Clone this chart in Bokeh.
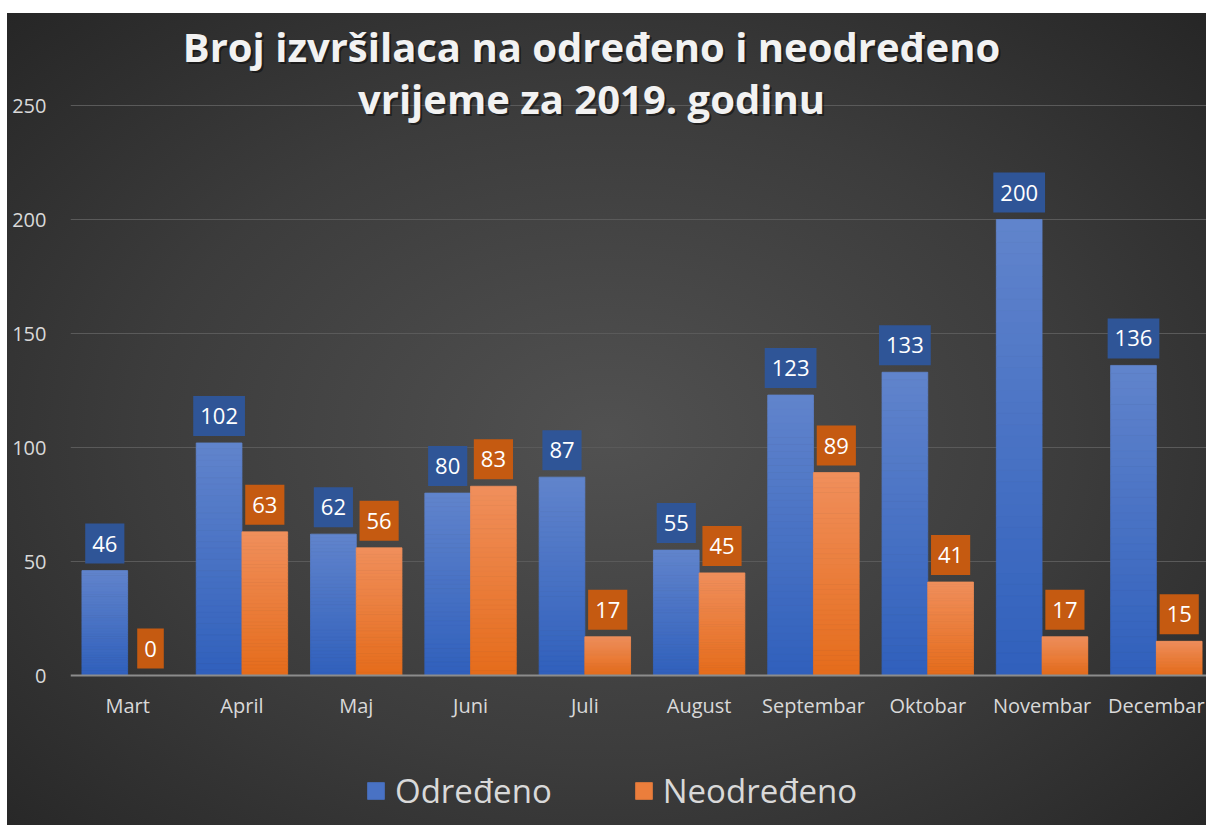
import numpy as np
from bokeh.plotting import figure
from bokeh.models import (ColumnDataSource, Range1d, FixedTicker, Label, Legend,
                          LegendItem, InlineStyleSheet, Span)
from bokeh.core.properties import value
from bokeh.embed import file_html
from bokeh.resources import INLINE

# ---------------- data ----------------
months = ["Mart", "April", "Maj", "Juni", "Juli", "August",
          "Septembar", "Oktobar", "Novembar", "Decembar"]
odredeno = [46, 102, 62, 80, 87, 55, 123, 133, 200, 136]
neodredeno = [0, 63, 56, 83, 17, 45, 89, 41, 17, 15]
series_names = ["Određeno", "Neodređeno"]
y_ticks = [0, 50, 100, 150, 200, 250]
title_lines = ["Broj izvršilaca na određeno i neodređeno", "vrijeme za 2019. godinu"]

# ---------------- styles ----------------
FONT = "Open Sans"
BLUE_BOT, BLUE_TOP = (48, 96, 188), (97, 132, 204)
ORNG_BOT, ORNG_TOP = (229, 108, 27), (240, 143, 92)
BLUE_BOX, ORNG_BOX = "#2f5597", "#c55a11"
LABEL_GREY = "#d9d9d9"

W, H = 1206, 825
FRAME_L, FRAME_T = 70, 13
ZERO_Y = 675
PX_Y = 2.28      # pixels per unit
PX_X = 114.3     # pixels per category

p = figure(width=W, height=H, output_backend="svg", toolbar_location=None,
           x_axis_location=None,
           x_range=Range1d(0, (W - FRAME_L) / PX_X),
           y_range=Range1d((ZERO_Y - H) / PX_Y, (ZERO_Y - FRAME_T) / PX_Y),
           min_border_left=FRAME_L, min_border_right=0, min_border_top=FRAME_T,
           min_border_bottom=0)
p.border_fill_alpha = 0
p.background_fill_alpha = 0
p.outline_line_color = None
p.stylesheets = [InlineStyleSheet(css=(
    ":host { background: radial-gradient(ellipse at 50% 52%, #515151 0%, #3c3c3c 55%, #262626 100%) "
    "7px 13px / 1199px 812px no-repeat, #ffffff; }"))]

def blend(c1, c2, t):
    r, g, b = (int(round(a + (bb - a) * t)) for a, bb in zip(c1, c2))
    return "#%02x%02x%02x" % (r, g, b)

# grid + zero line
p.xgrid.visible = False
p.xgrid.grid_line_color = None
p.ygrid.ticker = FixedTicker(ticks=y_ticks[1:])
p.ygrid.grid_line_color = "#5a5a5a"
p.ygrid.grid_line_width = 1

n_bands = 40
centers = np.arange(len(months)) + 0.5
legend_items = []
for vals, cb, ct, off, name in [(odredeno, BLUE_BOT, BLUE_TOP, -0.2, series_names[0]),
                                (neodredeno, ORNG_BOT, ORNG_TOP, 0.2, series_names[1])]:
    v = np.array(vals, dtype=float)
    mid = None
    for k in range(n_bands):
        col = blend(cb, ct, (k + 0.5) / n_bands)
        r = p.vbar(x=centers + off, width=0.4, bottom=v * k / n_bands,
                   top=v * (k + 1) / n_bands, fill_color=col, line_color=col,
                   line_width=0.8)
        if k == n_bands // 2:
            mid = r
    legend_items.append(LegendItem(label=name, renderers=[mid]))

p.add_layout(Span(location=y_ticks[0], dimension="width", line_color="#8c8c8c",
                  line_width=2))

# data labels
for vals, off, box in [(odredeno, -0.2, BLUE_BOX), (neodredeno, 0.2, ORNG_BOX)]:
    src = ColumnDataSource(dict(x=centers + off, y=vals, t=[str(v) for v in vals]))
    p.text(x="x", y="y", text="t", source=src, text_align="center",
           text_baseline="bottom", y_offset=-7, text_color="white",
           text_font=value(FONT), text_font_size="22px",
           background_fill_color=box,
           padding=dict(top=12, bottom=12, left=7, right=7))

# month (category) labels along y = 0
msrc = ColumnDataSource(dict(x=centers, y=[0] * len(months), t=months))
p.text(x="x", y="y", text="t", source=msrc, text_align="center",
       text_baseline="middle", y_offset=30, text_color=LABEL_GREY,
       text_font=value(FONT), text_font_size="20px")

# y axis
p.yaxis.ticker = FixedTicker(ticks=y_ticks)
p.yaxis.axis_line_color = None
p.yaxis.major_tick_line_color = None
p.yaxis.minor_tick_line_color = None
p.yaxis.major_label_text_color = LABEL_GREY
p.yaxis.major_label_text_font = FONT
p.yaxis.major_label_text_font_size = "20px"
p.yaxis.major_label_standoff = 18

# title
tx = (591 - FRAME_L) / PX_X
for line, py in zip(title_lines, [46, 98]):
    ty = (ZERO_Y - py) / PX_Y
    p.add_layout(Label(x=tx, y=ty, x_offset=2, y_offset=-2, text=line,
                       text_align="center", text_baseline="middle",
                       text_font=FONT, text_font_style="bold",
                       text_font_size="40px", text_color="#000000",
                       text_alpha=0.45))
    p.add_layout(Label(x=tx, y=ty, text=line, text_align="center",
                       text_baseline="middle", text_font=FONT,
                       text_font_style="bold", text_font_size="40px",
                       text_color="#f2f2f2"))

legend = Legend(items=legend_items, location=(295, 12), orientation="horizontal",
                label_text_font=FONT, label_text_font_size="33px",
                label_text_color=LABEL_GREY, glyph_width=21, glyph_height=21,
                spacing=81, label_standoff=9, padding=0, margin=0,
                background_fill_alpha=0, border_line_color=None)
p.add_layout(legend, "center")

open("out.html", "w").write(file_html(p, INLINE))
